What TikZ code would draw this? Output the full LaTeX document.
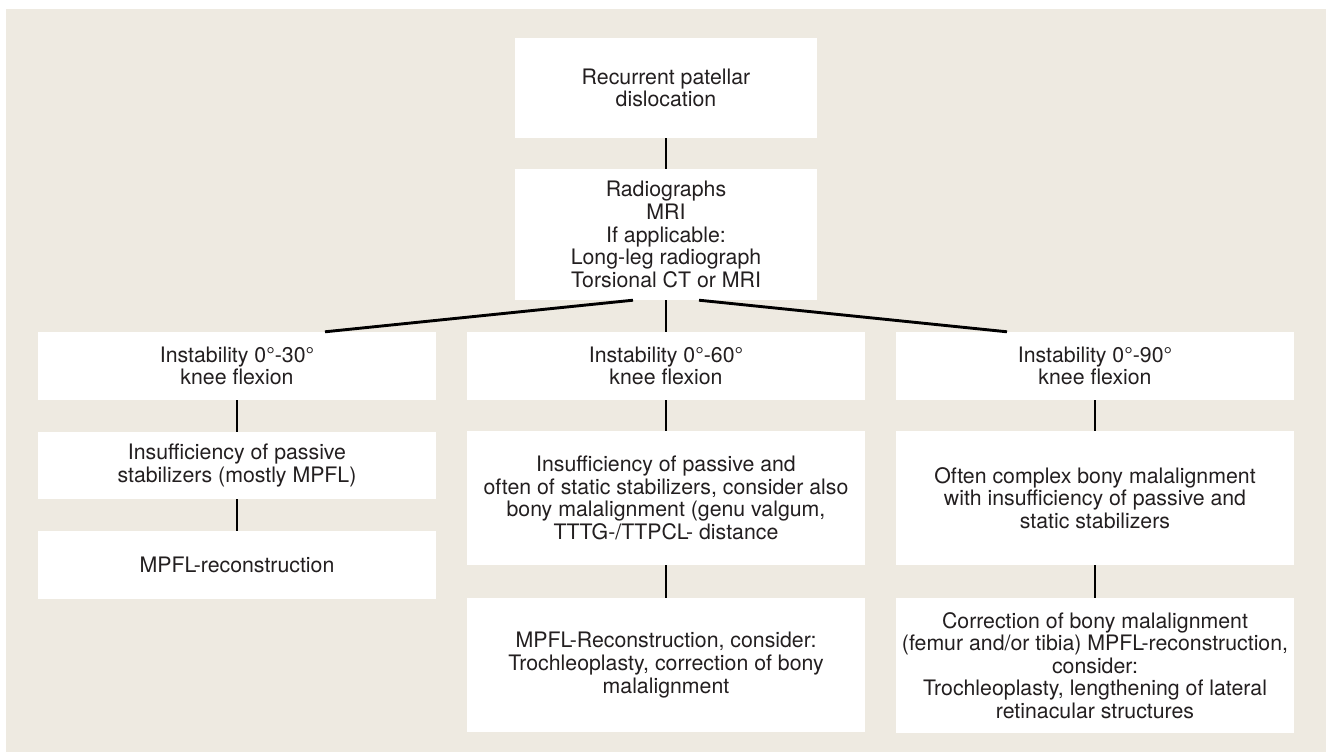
\documentclass[tikz,border=0pt]{standalone}
\usepackage{fontspec}
\setmainfont{TeX Gyre Heros}
\usetikzlibrary{calc}
\definecolor{bg}{RGB}{238,234,225}
\definecolor{txt}{RGB}{35,31,32}
\tikzset{
  box/.style={fill=white, inner sep=0pt, align=center, text=txt,
    font=\fontsize{21.3}{22.6}\selectfont},
  w/.style={minimum width=398pt},
  link/.style={line width=2.9pt, draw=black}
}
\begin{document}
\begin{tikzpicture}[x=1pt,y=-1pt]
\useasboundingbox (0,0) rectangle (1326,752);
\fill[bg] (6,9) rectangle (1326,752);

\node[box, minimum width=302pt, minimum height=100pt] (top) at (666,88) {Recurrent patellar\\dislocation};
\node[box, minimum width=302pt, minimum height=131pt] (rad) at (666,234.5) {Radiographs\\MRI\\If applicable:\\Long-leg radiograph\\Torsional CT or MRI};

\node[box, w, minimum height=68pt] (la) at (237,366) {Instability 0°-30°\\knee flexion};
\node[box, w, minimum height=68pt] (ma) at (666,366) {Instability 0°-60°\\knee flexion};
\node[box, w, minimum height=68pt] (ra) at (1095,366) {Instability 0°-90°\\knee flexion};

\node[box, w, minimum height=67pt] (lb) at (237,465.5) {Insufficiency of passive\\stabilizers (mostly MPFL)};
\node[box, w, minimum height=68pt] (lc) at (237,565) {MPFL-reconstruction};

\node[box, w, minimum height=134pt] (mb) at (666,498) {Insufficiency of passive and\\often of static stabilizers, consider also\\bony malalignment (genu valgum,\\TTTG-/TTPCL- distance};
\node[box, w, minimum height=134pt] (mc) at (666,665) {MPFL-Reconstruction, consider:\\Trochleoplasty, correction of bony\\malalignment};

\node[box, w, minimum height=134pt] (rb) at (1095,498) {Often complex bony malalignment\\with insufficiency of passive and\\static stabilizers};
\node[box, w, minimum height=135pt] (rc) at (1095,665.5) {Correction of bony malalignment\\(femur and/or tibia) MPFL-reconstruction,\\consider:\\Trochleoplasty, lengthening of lateral\\retinacular structures};

\draw[link] (top.south) -- (rad.north);
\draw[link] (rad.south) -- (ma.north);
\draw[link] ($(rad.south)+(-33,0)$) -- ($(la.north)+(88,0)$);
\draw[link] ($(rad.south)+(33,0)$) -- ($(ra.north)+(-88,0)$);
\draw[link] (la.south) -- (lb.north);
\draw[link] (lb.south) -- (lc.north);
\draw[link] (ma.south) -- (mb.north);
\draw[link] (mb.south) -- (mc.north);
\draw[link] (ra.south) -- (rb.north);
\draw[link] (rb.south) -- (rc.north);
\end{tikzpicture}
\end{document}
